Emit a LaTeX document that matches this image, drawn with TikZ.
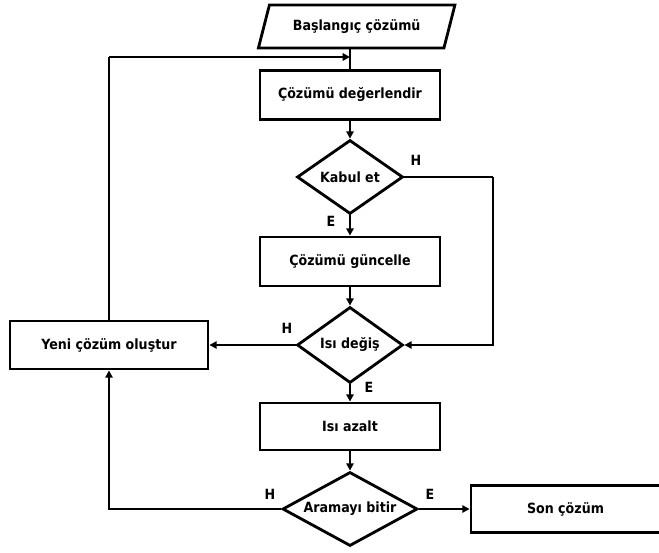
\documentclass[tikz,border=0pt]{standalone}
\usepackage{fontspec}
\setmainfont{DejaVu Sans Condensed}
\usepackage{tikz}
\usetikzlibrary{arrows.meta,positioning,shapes.geometric,calc}
\definecolor{fcink}{HTML}{000000}
\tikzset{
  proc/.style={draw=fcink,line width=2.4pt,fill=white,minimum width=5.4cm,
               minimum height=1.47cm,inner sep=2pt,font=\fontsize{12}{14}\selectfont\bfseries},
  decis/.style={diamond,shape aspect=2,draw=fcink,line width=2.4pt,fill=white,inner sep=0pt,
               minimum width=3.18cm,minimum height=2.22cm,font=\fontsize{12}{14}\selectfont\bfseries},
  inout/.style={trapezium,trapezium left angle=60,trapezium right angle=120,
               trapezium stretches=true,draw=fcink,line width=2.4pt,fill=white,
               minimum width=5.9cm,minimum height=1.29cm,inner sep=0pt,
               font=\fontsize{12}{14}\selectfont\bfseries},
  flowe/.style={-{Triangle[length=2.2mm,width=2.2mm]},line width=2.4pt,draw=fcink},
  linee/.style={line width=2.4pt,draw=fcink},
  blab/.style={font=\fontsize{12}{14}\selectfont\bfseries,text=fcink,inner sep=0pt},
}
\begin{document}
\begin{tikzpicture}[x=1cm,y=1cm]
  \useasboundingbox (0,0) rectangle (19.77,16.56);
  \node[inout] (start) at (10.70,15.765) {Başlangıç çözümü};
  \node[proc] (eval) at (10.5,13.71) {Çözümü değerlendir};
  \node[decis] (accept) at (10.5,11.25) {Kabul et};
  \node[proc] (update) at (10.5,8.715) {Çözümü güncelle};
  \node[decis,minimum height=2.28cm] (temp) at (10.5,6.21) {Isı değiş};
  \node[proc,minimum width=5.94cm,minimum height=1.44cm] (newsol) at (3.27,6.21) {Yeni çözüm oluştur};
  \node[proc,minimum height=1.41cm] (cool) at (10.5,3.765) {Isı azalt};
  \node[decis,minimum width=4.05cm] (stop) at (10.5,1.29) {Aramayı bitir};
  \node[proc,minimum width=5.67cm,minimum height=1.41cm] (final) at (16.965,1.29) {Son çözüm};
  \coordinate (loop) at (3.27,14.85);
  \coordinate (side) at (14.79,11.25);
  % main column
  \draw[linee] (start.south -| eval.north) -- (eval.north);
  \draw[flowe] (eval) -- (accept);
  \draw[flowe] (accept) -- (update);
  \draw[flowe] (update) -- (temp);
  \draw[flowe] (temp) -- (cool);
  \draw[flowe] (cool) -- (stop);
  \draw[flowe] (stop) -- (final);
  % branches
  \draw[linee] (accept.east) -- (side);
  \draw[flowe] (side) |- (temp.east);
  \draw[flowe] (temp.west) -- (newsol.east);
  \draw[flowe] (stop.west) -| (newsol.south);
  \draw[linee] (newsol.north) -- (loop);
  \draw[flowe] (loop) -- (loop -| eval.north);
  \node[blab] (h1) at (12.48,11.76) {H};
  \node[blab] (e1) at (9.93,9.93) {E};
  \node[blab] (h2) at (8.61,6.72) {H};
  \node[blab] (e2) at (11.07,4.95) {E};
  \node[blab] (h3) at (8.1,1.74) {H};
  \node[blab] (e3) at (12.9,1.74) {E};
\end{tikzpicture}
\end{document}
